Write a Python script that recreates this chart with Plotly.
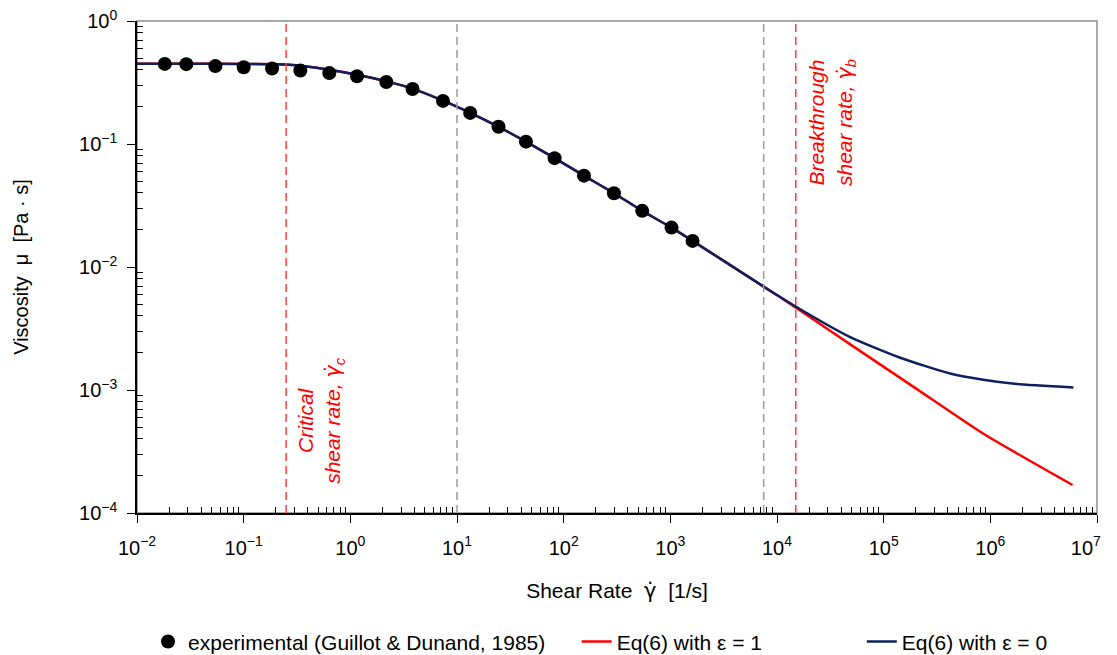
import plotly.graph_objects as go

# Experimental data (Guillot & Dunand, 1985)
shear_exp = [0.0182, 0.0290, 0.0543, 0.100, 0.1846, 0.340, 0.635, 1.156, 2.175, 3.83,
             7.39, 13.3, 24.5, 44.3, 82.2, 155, 296, 545, 1026, 1615]
visc_exp = [0.448, 0.446, 0.430, 0.421, 0.411, 0.396, 0.377, 0.355, 0.319, 0.280,
            0.224, 0.179, 0.138, 0.1045, 0.0767, 0.0553, 0.0398, 0.0286, 0.0209, 0.0163]

# Eq(6) with eps = 1
shear_eps1 = [0.01, 0.03, 0.1, 0.25, 0.34, 0.635, 1.156, 2.175, 3.83, 7.39, 13.3, 24.5,
              44.3, 82.2, 155, 296, 545, 1026, 1615, 3500, 7470, 14820, 48600, 204800,
              861000, 5.9e6]
visc_eps1 = [0.450, 0.449, 0.447, 0.443, 0.432, 0.401, 0.365, 0.323, 0.282, 0.225, 0.179,
             0.138, 0.1045, 0.0767, 0.0553, 0.0398, 0.0286, 0.0209, 0.0163, 0.0106,
             6.93e-3, 4.72e-3, 2.35e-3, 1.017e-3, 4.41e-4, 1.69e-4]

# Eq(6) with eps = 0
shear_eps0 = [0.01, 0.03, 0.1, 0.25, 0.34, 0.635, 1.156, 2.175, 3.83, 7.39, 13.3, 24.5,
              44.3, 82.2, 155, 296, 545, 1026, 1615, 3500, 7470, 14820, 48600, 142800,
              420000, 857000, 1.77e6, 6.0e6]
visc_eps0 = [0.450, 0.449, 0.447, 0.443, 0.432, 0.401, 0.365, 0.323, 0.282, 0.225, 0.179,
             0.138, 0.1045, 0.0767, 0.0553, 0.0398, 0.0286, 0.0209, 0.0163, 0.0106,
             6.95e-3, 4.8e-3, 2.69e-3, 1.83e-3, 1.36e-3, 1.21e-3, 1.117e-3, 1.047e-3]

# Reference shear rates
critical_rate = 0.25
breakthrough_rate = 1.5e4
gray_rates = [10, 7500]

x_ticks = [1e-2, 1e-1, 1e0, 1e1, 1e2, 1e3, 1e4, 1e5, 1e6, 1e7]
x_ticktext = ["10<sup>−2</sup>", "10<sup>−1</sup>", "10<sup>0</sup>", "10<sup>1</sup>",
              "10<sup>2</sup>", "10<sup>3</sup>", "10<sup>4</sup>", "10<sup>5</sup>",
              "10<sup>6</sup>", "10<sup>7</sup>\u00a0\u00a0\u00a0\u00a0"]
y_ticks = [1e-4, 1e-3, 1e-2, 1e-1, 1e0]
y_ticktext = ["10<sup>−4</sup>", "10<sup>−3</sup>", "10<sup>−2</sup>", "10<sup>−1</sup>",
              "10<sup>0</sup>"]

FONT = "Liberation Sans, Arial, sans-serif"
RED = "#ff0000"
NAVY = "#0c1f5e"
GDOT = '<span style="font-family:DejaVu Sans">γ̇</span>'

fig = go.Figure()

fig.add_trace(go.Scatter(
    x=shear_eps1, y=visc_eps1, mode="lines", name="Eq(6) with ε = 1",
    line=dict(color=RED, width=2.5, shape="spline", smoothing=0.6),
    legend="legend2", showlegend=True))
fig.add_trace(go.Scatter(
    x=shear_eps0, y=visc_eps0, mode="lines", name="Eq(6) with ε = 0",
    line=dict(color=NAVY, width=2.5, shape="spline", smoothing=0.6),
    legend="legend3", showlegend=True))
fig.add_trace(go.Scatter(
    x=shear_exp, y=visc_exp, mode="markers",
    name="experimental (Guillot &amp; Dunand, 1985)",
    marker=dict(color="black", size=14, symbol="circle"),
    legend="legend", showlegend=True))

shapes = []
for xv in gray_rates:
    shapes.append(dict(type="line", xref="x", yref="paper", x0=xv, x1=xv, y0=0, y1=1,
                       line=dict(color="#9a9a9a", width=1.5, dash="8px,5px")))
for xv in [critical_rate, breakthrough_rate]:
    shapes.append(dict(type="line", xref="x", yref="paper", x0=xv, x1=xv, y0=0, y1=1,
                       line=dict(color="#ff3b3b", width=1.5, dash="8px,5px")))
shapes.append(dict(type="rect", xref="paper", yref="paper", x0=0, x1=1, y0=0, y1=1,
                   line=dict(color="#8c8c8c", width=1.5), layer="below"))

minor_vals = [m * 10.0 ** k for k in range(-4, 7) for m in range(2, 10)]

axis_common = dict(
    type="log", showgrid=False, zeroline=False, showline=True, linecolor="black",
    linewidth=1.5, ticks="outside", ticklen=8, tickwidth=1.2, tickcolor="black",
    automargin=False, tickmode="array", ticklabeloverflow="allow",
    tickfont=dict(family=FONT, size=20, color="black"),
    minor=dict(ticks="inside", ticklen=6, tickwidth=1, tickcolor="black",
               tickmode="array", tickvals=minor_vals, showgrid=False),
)

legend_common = dict(orientation="h", y=-0.262, xanchor="left", yanchor="middle",
                     font=dict(family=FONT, size=21), bgcolor="rgba(0,0,0,0)",
                     visible=True)

fig.update_layout(
    width=1109, height=663,
    margin=dict(l=129, r=20, t=13, b=158, autoexpand=False),
    plot_bgcolor="white", paper_bgcolor="white",
    font=dict(family=FONT, size=20, color="black"),
    showlegend=True,
    shapes=shapes,
    xaxis=dict(axis_common, range=[-2, 7], tickvals=x_ticks, ticktext=x_ticktext,
               ticklabelstandoff=8,
               title=dict(text="Shear Rate\u00a0\u00a0" + GDOT + "\u00a0\u00a0[1/s]",
                          font=dict(family=FONT, size=21), standoff=26)),
    yaxis=dict(axis_common, range=[-4, 0], tickvals=y_ticks, ticktext=y_ticktext,
               ticklabelstandoff=6,
               title=dict(text="Viscosity\u00a0\u00a0μ\u00a0\u00a0[Pa\u00a0·\u00a0s]",
                          font=dict(family=FONT, size=20), standoff=45)),
    legend=dict(legend_common, x=0.0115),
    legend2=dict(legend_common, x=0.458),
    legend3=dict(legend_common, x=0.755),
    annotations=[
        dict(x=-0.281, y=0.188, xref="x", yref="paper", textangle=-90, showarrow=False,
             xanchor="center", yanchor="middle",
             text="<i>Critical<br>shear rate, " + GDOT + "<sub>c</sub></i>",
             font=dict(family=FONT, size=21, color=RED), align="center"),
        dict(x=4.517, y=0.793, xref="x", yref="paper", textangle=-90, showarrow=False,
             xanchor="center", yanchor="middle",
             text="<i>Breakthrough<br>shear rate, " + GDOT + "<sub>b</sub></i>",
             font=dict(family=FONT, size=21, color=RED), align="center"),
    ],
)

fig.write_html("out.html")
